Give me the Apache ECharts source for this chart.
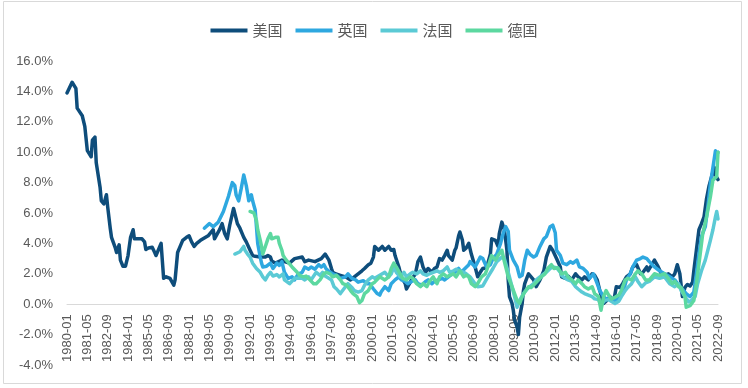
<!DOCTYPE html>
<html>
<head>
<meta charset="utf-8">
<script src="https://cdn.jsdelivr.net/npm/echarts@6/dist/echarts.min.js"></script>
<style>
html,body{margin:0;padding:0;background:#fff;}
#chart{width:748px;height:388px;}
</style>
</head>
<body>
<div id="chart"></div>
<script>
// ---- data (year-month, CPI YoY %) ----
const firstMonth = '1980-01';
const lastMonth = '2022-09';
const seriesNames = ['美国', '英国', '法国', '德国'];
const yTicks = [-4, -2, 0, 2, 4, 6, 8, 10, 12, 14, 16];

const usData = [
['1980-01',13.9],['1980-05',14.6],['1980-08',14.2],['1980-09',12.9],['1981-01',12.4],['1981-03',11.7],['1981-05',10.1],['1981-08',9.7],['1981-09',10.8],['1981-11',11.0],['1981-12',9.3],
['1982-03',7.7],['1982-04',6.8],['1982-06',6.6],['1982-08',7.2],['1982-09',6.4],['1982-11',5.0],['1982-12',4.4],['1983-03',3.7],['1983-04',3.4],['1983-06',3.9],['1983-07',2.9],['1983-09',2.5],['1983-11',2.5],
['1984-01',3.2],['1984-03',4.4],['1984-05',4.9],['1984-06',4.3],['1984-12',4.3],['1985-02',4.1],['1985-03',3.6],['1985-05',3.7],['1985-08',3.75],['1985-10',3.4],['1985-11',3.2],
['1986-02',3.8],['1986-03',4.0],['1986-05',1.7],['1986-07',1.8],['1986-10',1.7],['1986-11',1.6],['1987-01',1.25],['1987-02',1.6],['1987-04',3.4],['1987-06',3.8],['1987-08',4.2],['1987-11',4.4],
['1988-01',4.5],['1988-03',4.1],['1988-05',3.8],['1988-07',4.0],['1988-10',4.2],['1988-11',4.3],['1989-04',4.5],['1989-08',4.9],['1989-09',4.3],
['1990-01',4.9],['1990-03',5.3],['1990-05',4.65],['1990-07',4.3],['1990-09',5.2],['1990-12',6.3],['1991-01',6.2],['1991-03',5.3],['1991-05',5.0],['1991-08',4.4],['1991-10',4.1],
['1992-01',3.55],['1992-03',3.2],['1992-05',3.15],['1992-09',3.1],['1993-01',3.1],['1993-03',3.2],['1993-05',3.1],['1993-06',2.85],['1993-09',2.7],['1994-02',2.9],['1994-04',2.8],['1994-08',2.7],['1994-12',3.0],
['1995-06',3.1],['1995-08',2.8],['1995-11',2.9],['1996-04',2.8],['1996-09',3.0],['1996-12',3.3],['1997-01',3.4],['1997-03',2.9],['1997-05',2.35],['1997-06',2.1],['1997-08',2.0],['1997-12',1.9],
['1998-04',1.8],['1998-08',1.6],['1998-11',1.8],['1999-02',2.0],['1999-05',2.2],['1999-07',2.35],['1999-10',2.6],['1999-12',2.7],
['2000-02',3.1],['2000-03',3.8],['2000-06',3.55],['2000-09',3.8],['2000-11',3.55],['2001-02',3.8],['2001-04',3.55],['2001-06',3.6],['2001-07',3.2],['2001-10',2.45],['2001-12',1.8],
['2002-03',1.35],['2002-04',1.0],['2002-05',1.1],['2002-08',1.6],['2002-11',2.0],['2003-01',2.8],['2003-03',3.1],['2003-05',2.45],['2003-07',2.1],['2003-09',2.35],['2003-12',2.1],
['2004-02',2.35],['2004-04',2.45],['2004-06',3.0],['2004-08',2.9],['2004-10',3.2],['2004-12',3.55],['2005-01',3.2],['2005-04',2.9],['2005-06',3.55],['2005-07',3.7],['2005-09',4.5],['2005-10',4.75],['2005-12',4.2],
['2006-01',3.55],['2006-03',3.7],['2006-05',4.0],['2006-06',4.1],['2006-07',3.3],['2006-10',2.45],['2006-12',1.8],['2007-02',2.1],['2007-04',2.35],['2007-07',2.4],['2007-10',3.3],['2007-11',4.3],
['2008-02',4.2],['2008-04',3.8],['2008-05',4.65],['2008-07',5.4],['2008-08',5.5],['2008-09',4.9],['2008-11',3.55],['2008-12',1.6],
['2009-01',0.5],['2009-03',0.05],['2009-04',-0.4],['2009-05',-1.05],['2009-07',-1.5],['2009-08',-2.0],['2009-09',-0.85],['2009-11',0.05],['2009-12',0.9],
['2010-01',1.35],['2010-03',1.8],['2010-04',2.0],['2010-06',1.8],['2010-08',1.6],['2010-10',1.15],['2011-01',1.6],['2011-04',2.2],['2011-06',3.1],['2011-09',3.8],['2011-11',3.55],
['2012-02',3.0],['2012-05',2.45],['2012-06',1.8],['2012-09',1.7],['2012-11',1.85],['2013-02',1.6],['2013-05',2.0],['2013-07',1.8],['2013-10',1.6],['2013-12',1.8],
['2014-03',1.6],['2014-06',2.0],['2014-08',1.9],['2014-10',1.6],['2014-12',0.9],['2015-03',0.05],['2015-05',0.2],['2015-08',0.5],['2015-11',0.2],
['2016-01',1.15],['2016-04',1.1],['2016-06',1.35],['2016-09',1.8],['2016-12',2.0],['2017-02',2.45],['2017-05',2.6],['2017-08',2.0],['2017-10',2.1],
['2018-01',2.45],['2018-02',2.2],['2018-05',2.6],['2018-07',2.9],['2018-10',2.45],['2019-01',1.9],['2019-03',1.9],['2019-06',2.0],['2019-09',1.8],['2019-11',2.0],
['2020-01',2.6],['2020-03',2.0],['2020-05',0.5],['2020-07',1.1],['2020-09',1.3],['2020-11',1.2],['2021-01',1.45],['2021-02',2.2],['2021-04',3.55],['2021-06',4.9],['2021-08',5.3],['2021-10',5.75],['2021-12',6.95],
['2022-02',7.8],['2022-04',8.4],['2022-06',9.0],['2022-07',8.5],['2022-09',8.2]
];

const ukData = [
['1989-01',5.0],['1989-05',5.3],['1989-08',5.1],['1989-12',5.4],['1990-04',6.1],['1990-08',7.1],['1990-11',8.0],['1991-01',7.8],['1991-02',7.2],['1991-04',6.8],['1991-06',7.6],['1991-08',8.5],['1991-09',8.4],['1991-10',7.8],['1991-12',6.8],
['1992-02',7.2],['1992-03',6.8],['1992-05',6.2],['1992-06',5.1],['1992-07',4.0],['1992-09',3.1],['1992-10',2.7],['1992-11',2.45],['1993-02',2.5],['1993-05',2.7],['1993-07',2.35],['1993-10',2.7],['1993-12',2.55],
['1994-02',2.8],['1994-04',2.1],['1994-07',1.7],['1994-10',1.8],['1994-12',1.6],['1995-03',2.0],['1995-06',2.1],['1995-08',2.45],['1995-11',2.3],['1996-01',2.45],['1996-04',2.3],['1996-07',2.6],['1996-09',2.45],['1996-11',2.6],
['1997-01',2.3],['1997-04',2.1],['1997-06',2.0],['1997-09',1.9],['1997-12',1.7],['1998-04',1.8],['1998-06',2.0],['1998-09',1.7],['1998-12',1.6],['1999-02',1.45],['1999-06',1.55],['1999-09',1.35],['1999-11',1.35],
['2000-02',1.0],['2000-05',0.7],['2000-07',0.6],['2000-08',0.8],['2000-11',1.15],['2001-02',0.9],['2001-04',1.35],['2001-07',1.6],['2001-10',1.8],['2001-12',1.6],
['2002-03',1.5],['2002-05',1.35],['2002-08',1.5],['2002-11',1.6],['2003-01',1.35],['2003-04',1.25],['2003-07',1.5],['2003-09',1.6],['2003-12',1.35],
['2004-02',1.5],['2004-05',1.6],['2004-08',1.7],['2004-10',1.6],['2005-01',1.8],['2005-04',2.0],['2005-06',2.1],['2005-09',2.35],['2005-11',2.1],
['2006-02',2.35],['2006-05',2.6],['2006-06',2.8],['2006-10',2.45],['2007-02',3.1],['2007-04',3.0],['2007-07',2.45],['2007-10',2.6],['2007-12',3.0],
['2008-03',3.3],['2008-06',4.0],['2008-08',4.65],['2008-10',5.1],['2008-12',4.8],['2009-01',3.55],['2009-04',2.9],['2009-07',2.45],['2009-09',1.8],['2009-11',1.9],
['2010-01',2.9],['2010-03',3.55],['2010-05',3.3],['2010-08',3.1],['2010-10',3.2],['2011-01',3.8],['2011-04',4.3],['2011-06',4.45],['2011-09',5.1],['2011-11',5.2],
['2012-01',4.7],['2012-02',3.55],['2012-05',3.2],['2012-07',2.7],['2012-10',2.6],['2013-01',2.8],['2013-03',2.7],['2013-06',2.9],['2013-08',2.45],['2013-11',2.35],
['2014-02',2.1],['2014-04',1.7],['2014-07',2.0],['2014-10',1.35],['2014-12',0.9],['2015-03',0.5],['2015-05',0.35],['2015-08',0.4],['2015-11',0.35],
['2016-01',0.25],['2016-04',0.5],['2016-06',0.7],['2016-09',1.6],['2016-12',2.0],['2017-02',2.45],['2017-05',2.9],['2017-08',3.0],['2017-10',3.1],
['2018-01',3.0],['2018-03',2.8],['2018-07',2.45],['2018-11',2.2],['2019-03',2.0],['2019-07',1.8],['2019-11',1.6],
['2020-03',1.15],['2020-06',0.9],['2020-08',0.7],['2020-11',0.5],['2021-02',0.8],['2021-04',2.0],['2021-06',3.3],['2021-08',4.45],['2021-11',5.1],
['2022-01',6.4],['2022-03',7.9],['2022-05',9.0],['2022-07',10.1],['2022-08',9.8],['2022-09',10.0]
];

const frData = [
['1991-01',3.3],['1991-05',3.45],['1991-08',3.8],['1991-09',3.55],['1991-11',3.3],['1992-01',3.1],['1992-03',2.7],['1992-06',2.35],['1992-09',2.1],['1992-11',1.8],
['1993-01',1.6],['1993-03',1.9],['1993-05',2.1],['1993-07',1.85],['1993-10',1.95],['1993-12',1.8],['1994-03',2.0],['1994-04',1.6],['1994-08',1.35],['1994-12',1.7],
['1995-06',1.7],['1995-08',1.6],['1995-11',1.8],['1996-01',1.6],['1996-05',2.1],['1996-08',1.9],['1996-10',2.1],['1996-12',1.85],
['1997-02',1.75],['1997-05',1.6],['1997-07',1.15],['1997-09',1.0],['1997-12',0.7],['1998-01',0.8],['1998-04',1.15],['1998-06',1.35],['1998-09',1.1],['1998-11',0.9],
['1999-02',0.8],['1999-05',0.9],['1999-07',1.25],['1999-10',1.6],['2000-01',1.8],['2000-03',1.7],['2000-07',1.9],['2000-11',2.1],
['2001-02',1.8],['2001-04',2.0],['2001-06',2.45],['2001-08',2.1],['2001-11',1.8],['2002-02',2.1],['2002-04',1.8],['2002-07',2.0],['2002-09',2.1],['2002-12',2.0],
['2003-03',2.2],['2003-05',2.0],['2003-08',1.9],['2003-10',2.0],['2004-01',2.1],['2004-04',2.2],['2004-06',2.1],['2004-09',2.2],['2004-12',2.45],
['2005-02',2.1],['2005-05',2.2],['2005-07',2.3],['2005-10',2.2],['2006-01',2.1],['2006-03',2.0],['2006-06',1.8],['2006-10',1.35],['2006-12',1.15],
['2007-04',1.2],['2007-08',1.8],['2007-12',2.35],['2008-03',2.8],['2008-07',3.1],['2008-09',3.0],['2008-12',2.1],
['2009-03',1.15],['2009-05',0.5],['2009-07',-0.2],['2009-09',0.25],['2009-12',0.7],['2010-03',1.0],['2010-05',1.15],['2010-08',1.35],['2010-10',1.6],
['2011-01',1.8],['2011-04',2.0],['2011-06',2.1],['2011-09',2.35],['2011-11',2.45],['2012-02',2.4],['2012-05',2.1],['2012-06',1.9],['2012-09',1.7],['2012-11',1.6],
['2013-02',1.5],['2013-05',1.15],['2013-07',1.0],['2013-10',0.8],['2013-12',0.7],['2014-03',0.6],['2014-06',0.5],['2014-08',0.35],['2014-11',0.3],
['2015-01',-0.05],['2015-04',0.25],['2015-07',0.3],['2015-09',0.2],['2015-12',0.05],['2016-03',0.2],['2016-05',0.5],['2016-08',0.9],['2016-10',1.1],
['2017-01',1.35],['2017-04',1.8],['2017-06',1.5],['2017-09',1.15],['2017-12',1.4],['2018-03',1.5],['2018-07',1.8],['2018-11',1.7],
['2019-03',1.8],['2019-07',1.35],['2019-11',1.15],['2020-02',1.35],['2020-04',0.9],['2020-07',0.5],['2020-10',0.15],['2020-12',0.25],
['2021-03',0.5],['2021-05',1.35],['2021-08',2.2],['2021-11',2.9],['2022-01',3.55],['2022-03',4.2],['2022-05',4.9],['2022-07',5.75],['2022-08',6.1],['2022-09',5.6]
];

const deData = [
['1992-01',6.1],['1992-04',6.0],['1992-06',5.5],['1992-07',4.9],['1992-09',4.2],['1992-10',3.8],['1992-11',3.3],['1993-01',3.8],['1993-03',4.3],['1993-05',4.65],['1993-06',4.3],['1993-09',4.4],['1993-11',4.4],['1993-12',4.0],
['1994-02',3.55],['1994-03',3.2],['1994-05',2.95],['1994-07',2.75],['1994-10',2.45],['1995-02',2.1],['1995-04',1.9],['1995-07',1.8],['1995-09',1.85],['1995-12',1.6],
['1996-03',1.35],['1996-05',1.35],['1996-08',1.6],['1996-11',2.0],['1997-01',2.1],['1997-04',2.0],['1997-06',1.8],['1997-09',1.9],['1997-12',1.6],
['1998-02',1.35],['1998-05',1.25],['1998-08',0.9],['1998-10',0.7],['1999-01',0.5],['1999-03',0.1],['1999-05',0.25],['1999-07',0.7],['1999-10',0.9],
['2000-01',1.35],['2000-03',1.45],['2000-07',1.8],['2000-11',1.6],['2001-02',1.8],['2001-04',2.35],['2001-06',2.7],['2001-08',2.45],['2001-11',2.0],
['2002-01',1.7],['2002-04',1.6],['2002-07',1.8],['2002-09',1.7],['2002-12',1.35],['2003-03',1.15],['2003-05',1.35],['2003-08',1.15],['2003-10',1.5],
['2004-01',1.8],['2004-04',1.35],['2004-06',1.8],['2004-09',2.0],['2004-12',1.8],['2005-02',1.9],['2005-05',2.0],['2005-07',1.8],['2005-10',2.2],
['2006-01',1.8],['2006-03',1.9],['2006-05',1.8],['2006-07',1.35],['2006-10',1.15],['2006-12',1.35],['2007-03',1.8],['2007-06',2.0],['2007-08',2.45],['2007-11',3.2],
['2008-02',2.9],['2008-04',3.2],['2008-07',3.55],['2008-09',2.8],['2008-12',1.8],['2009-03',1.15],['2009-05',0.7],['2009-07',0.25],['2009-09',0.05],['2009-11',0.5],
['2010-01',0.8],['2010-04',1.15],['2010-06',1.1],['2010-09',1.35],['2010-12',1.6],['2011-02',1.8],['2011-05',2.0],['2011-07',2.35],['2011-10',2.6],['2011-12',2.35],
['2012-03',2.4],['2012-06',2.0],['2012-09',2.1],['2012-11',1.8],['2013-02',1.6],['2013-05',1.35],['2013-07',1.6],['2013-10',1.35],['2013-12',1.15],
['2014-03',1.0],['2014-06',1.15],['2014-08',0.7],['2014-11',0.5],['2015-01',-0.4],['2015-03',0.5],['2015-05',0.9],['2015-07',0.6],['2015-09',0.35],['2015-12',0.45],
['2016-03',0.6],['2016-05',0.9],['2016-08',1.6],['2016-10',1.7],['2017-01',1.6],['2017-04',2.0],['2017-06',2.2],['2017-09',2.0],['2017-12',1.6],
['2018-03',1.6],['2018-07',2.0],['2018-11',1.9],['2019-03',2.0],['2019-06',1.7],['2019-09',1.35],['2019-11',1.5],
['2020-02',1.15],['2020-04',1.1],['2020-07',0.5],['2020-08',-0.2],['2020-11',-0.1],['2021-02',0.25],['2021-04',1.35],['2021-07',3.3],['2021-09',4.65],['2021-12',5.75],
['2022-03',7.05],['2022-05',8.15],['2022-08',8.4],['2022-09',10.0]
];

const seriesColors = ['#0E4D7B', '#2EA8E0', '#5BCAD5', '#5CD8A0'];

// ---- build categories ----
function monthIndex(s) {
  const [y, m] = s.split('-').map(Number);
  const [y0, m0] = firstMonth.split('-').map(Number);
  return (y - y0) * 12 + (m - m0);
}
const months = [];
{
  let [y, m] = firstMonth.split('-').map(Number);
  const n = monthIndex(lastMonth);
  for (let i = 0; i <= n; i++) {
    months.push(y + '-' + String(m).padStart(2, '0'));
    m++; if (m > 12) { m = 1; y++; }
  }
}
const toSeries = arr => arr.map(([d, v]) => [monthIndex(d), v]);
const allData = [usData, ukData, frData, deData];

const gridTop = 61, gridBottom = 23, chartH = 388;
const plotH = chartH - gridTop - gridBottom;
const yMin = yTicks[0], yMax = yTicks[yTicks.length - 1];
// distance from plot bottom up to the zero line, so the category axis sits at 0%
const zeroShift = plotH * (0 - yMin) / (yMax - yMin);

const chart = echarts.init(document.getElementById('chart'), null, {renderer: 'canvas'});
const txt = '#595959';
chart.setOption({
  animation: false,
  backgroundColor: '#fff',
  legend: {
    data: seriesNames,
    top: 18,
    left: 'center',
    itemWidth: 37,
    itemHeight: 4,
    itemGap: 13,
    icon: 'rect',
    textStyle: {color: txt, fontSize: 15, fontFamily: '"Noto Sans CJK SC", sans-serif'}
  },
  grid: {left: 67, right: 30, top: gridTop, bottom: gridBottom, containLabel: false, outerBoundsMode: 'none'},
  xAxis: {
    type: 'category',
    data: months,
    boundaryGap: false,
    offset: -zeroShift,
    axisLine: {onZero: false, lineStyle: {color: '#D9D9D9', width: 1}},
    axisTick: {show: false},
    axisLabel: {
      interval: 15, rotate: 90, margin: 10, color: txt, fontSize: 13,
      fontFamily: '"Liberation Sans", Arial, sans-serif'
    },
    splitLine: {show: false}
  },
  yAxis: {
    type: 'value',
    min: yMin, max: yMax, interval: 2,
    axisLine: {show: false},
    axisTick: {show: false},
    splitLine: {show: false},
    axisLabel: {
      margin: 14, color: txt, fontSize: 13,
      fontFamily: '"Liberation Sans", Arial, sans-serif',
      formatter: v => v.toFixed(1) + '%'
    }
  },
  series: seriesNames.map((name, i) => ({
    name,
    type: 'line',
    data: toSeries(allData[i]),
    showSymbol: false,
    symbol: 'none',
    color: seriesColors[i],
    lineStyle: {width: 3.5, color: seriesColors[i], cap: 'round', join: 'round'},
    z: 2 + i
  })),
  graphic: [{
    type: 'rect',
    shape: {x: 3.5, y: 1.5, width: 738, height: 382},
    style: {fill: 'none', stroke: '#D9D9D9', lineWidth: 1},
    silent: true
  }]
});
</script>
</body>
</html>
